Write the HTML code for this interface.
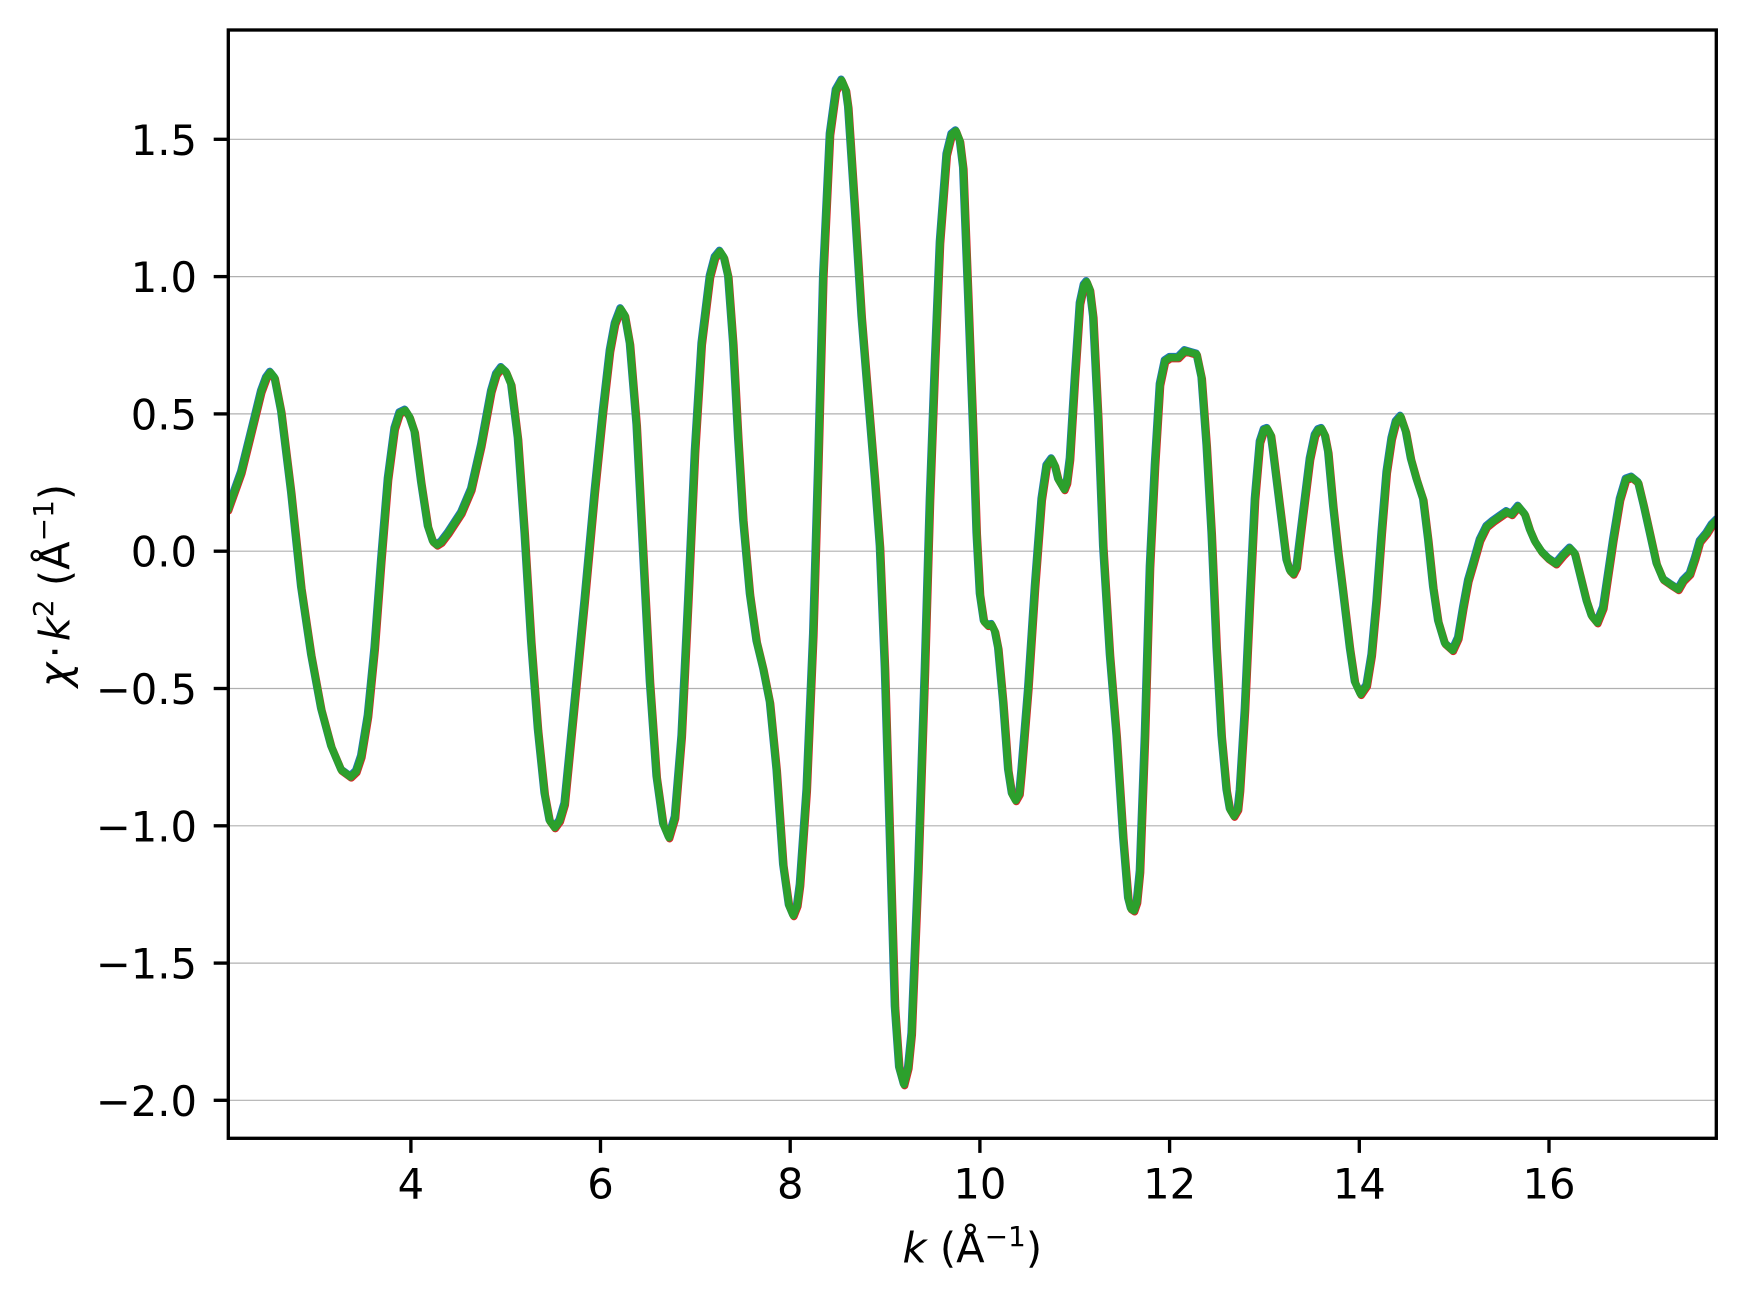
<!DOCTYPE html>
<html>
<head>
<meta charset="utf-8">
<style>
  html, body { margin: 0; padding: 0; background: #ffffff; }
  svg { display: block; }
  text { font-family: "DejaVu Sans", "Liberation Sans", sans-serif; fill: #000; }
</style>
</head>
<body>
<svg width="1745" height="1301" viewBox="0 0 1745 1301" xmlns="http://www.w3.org/2000/svg">
  <rect x="0" y="0" width="1745" height="1301" fill="#ffffff"/>
  <defs>
    <clipPath id="ax">
      <rect x="228.3" y="30" width="1488" height="1108.3"/>
    </clipPath>
    <path id="c" d="
M228,509.7 L241.3,472.5 L254.7,418.4 L261.3,391.4 L266.3,377.9 L270.3,372.4 L274.7,377.9 L281.3,411.7 L291.3,492.8 L301.3,587.5 L311.3,655.1 L321.3,709.2 L331.3,746.4 L341.3,770.1 L350.7,776.9 L356.3,771.5 L361.3,756.6 L368,716 L374.7,648.4 L381.3,560.5 L388,479.3 L394.7,428.6 L399.7,413 L405.3,410.3 L409.7,417.1 L414.7,432 L421.3,482.7 L428,526.6 L433,541.5 L437,544.9 L441.3,542.2 L448,533.4 L461.3,513.1 L471.3,489.5 L481.3,445.5 L491.3,391.4 L496.3,374.5 L501.3,367.7 L506.3,372.4 L511.3,384.6 L518,438.7 L524.7,533.4 L531.3,641.6 L538,729.5 L544.7,793.8 L549.7,820.8 L554.7,827.6 L559.7,820.8 L564.7,803.9 L574.7,702.5 L584.7,601 L594.7,492.8 L603,411.7 L610,350.8 L615,323.8 L620.7,308.9
L625,315.6 L630,344 L636.7,425.2 L643.3,553.7 L650,682.2 L656.7,776.9 L663.3,824.2 L669,837.7 L675,817.5 L681.7,736.3 L688.3,601 L695,452.3 L701.7,344 L710,276.4 L715,257.5 L720,251.4 L724,257.5 L728.3,276.4 L733.3,344 L738.3,438.7 L743.3,519.9 L750,594.3 L756.7,641.6 L763.3,668.7 L770,702.5 L776.7,770.1 L783.3,864.8 L789,905.4 L793.3,915.5 L797.3,905.4 L800,885.1 L806.7,790.4 L813.3,634.9 L818.3,465.8 L823.3,276.4 L830,134.4 L836,90.4 L841.7,80.3 L846,90.4 L848.3,107.3 L855,208.8 L861.7,317 L868.3,398.2 L875,479.3 L880,546.9 L885,668.7 L890,837.7 L895,1006.8 L899.3,1067.7 L904,1084.6 L908.3,1067.7 L911.7,1033.9 L918.3,871.6 L925,668.7 L930,499.6 L935,364.3 L940,242.6 L946.7,154.7 L951.7,134.4 L956,131 L960,141.2 L963.3,168.2 L968.3,296.7
L973.3,432 L976.7,533.4 L980,594.3 L984,621.3 L988,625.4 L991.7,624.7 L995,631.5 L998.3,648.4 L1003.3,702.5 L1008.3,770.1 L1012,793.8 L1015.7,800.5 L1019.5,793.8 L1021.7,770.1 L1028.3,689 L1035,587.5 L1041.7,499.6 L1046.7,465.8 L1051.7,459 L1055,465.8 L1058.3,479.3 L1064.3,489.5 L1067,482.7 L1070,459 L1075,377.9 L1080,303.5 L1084,285.2 L1086.7,281.8 L1090,289.9 L1093.3,317 L1098.3,418.4 L1103.3,546.9 L1110,655.1 L1116.7,736.3 L1123.3,837.7 L1128.3,898.6 L1131,908.8 L1134,910.8 L1137,902 L1140,871.6 L1145,736.3 L1150,567.2 L1155,465.8 L1160,384.6 L1165,361 L1170,357.6 L1178.3,357.6 L1185,350.8 L1191.7,352.8 L1196.7,354.2 L1201.7,377.9 L1206.7,445.5 L1211.7,533.4 L1216.7,648.4 L1221.7,736.3 L1226.7,790.4 L1230,809.3 L1234,816.1 L1238,809.3 L1240,790.4 L1245,709.2 L1250,601 L1255,499.6 L1260,442.1 L1264,429.9 L1267.3,428.6 L1271,435.3 L1273.3,452.3 L1280,506.4 L1286.7,560.5 L1290,570.6 L1293.3,574 L1296.7,567.2 L1298.3,553.7 L1303.3,513.1 L1310,459 L1315,435.3 L1318.3,429.9 L1321.7,428.6 L1325,435.3 L1328.3,452.3 L1333.3,506.4
L1338.3,552 L1343,590 L1350,648.4 L1355,682.2 L1360.7,694.4 L1366.7,685.6 L1371.7,655.1 L1376.7,601 L1381.7,533.4 L1386.7,472.5 L1391.7,438.7 L1396,421.8 L1400.7,416.4 L1406,432 L1411,459 L1416.7,479.3 L1420,489.5 L1423.3,499.6 L1428.3,540.2 L1433.3,587.5 L1438.3,621.3 L1445,643.6 L1452.7,650.4 L1458.3,638.2 L1463.3,607.8 L1468.3,580.8 L1473.3,563.8 L1480,540.2 L1486.7,526.6 L1493.3,521.2 L1500,516.5 L1506.7,511.8 L1511.7,514.5 L1518.3,506.4 L1525,514.5 L1530,530 L1535,541.5 L1541.7,551.7 L1548.3,558.4 L1556,563.8 L1563.3,555.1 L1570,548.3 L1575,553.7 L1580,574 L1586.7,601 L1591.7,615.9 L1597.3,622.7 L1603.3,607.8 L1608.3,574 L1613.3,540.2 L1620,499.6 L1626,479.3 L1631.7,477.3 L1638.3,482.7 L1644,506.4 L1650,533.4 L1656.7,563.8 L1663.3,579.4 L1670,584.1 L1678.3,589.5 L1683.3,580.8 L1690,574 L1695,559.1 L1700,541.5 L1706.7,533.4 L1711.7,525.3 L1717,519.9"/>
  </defs>

  <!-- horizontal gridlines -->
  <g stroke="#b0b0b0" stroke-width="1.2">
    <line x1="228.3" y1="139.3" x2="1716.3" y2="139.3"/>
    <line x1="228.3" y1="276.6" x2="1716.3" y2="276.6"/>
    <line x1="228.3" y1="413.9" x2="1716.3" y2="413.9"/>
    <line x1="228.3" y1="551.2" x2="1716.3" y2="551.2"/>
    <line x1="228.3" y1="688.5" x2="1716.3" y2="688.5"/>
    <line x1="228.3" y1="825.8" x2="1716.3" y2="825.8"/>
    <line x1="228.3" y1="963.1" x2="1716.3" y2="963.1"/>
    <line x1="228.3" y1="1100.3" x2="1716.3" y2="1100.3"/>
  </g>

  <!-- data curves -->
  <g clip-path="url(#ax)" fill="none" stroke-width="7.5" stroke-linejoin="round" stroke-linecap="round">
    <use href="#c" stroke="#1f77b4" transform="translate(-0.6 -1)"/>
    <use href="#c" stroke="#d62728" transform="translate(0.6 1)"/>
    <use href="#c" stroke="#2ca02c"/>
  </g>

  <!-- spines -->
  <rect x="228.3" y="30" width="1488" height="1108.3" fill="none" stroke="#000" stroke-width="3.33" stroke-linejoin="miter"/>

  <!-- y ticks -->
  <g stroke="#000" stroke-width="3.33">
    <line x1="213.7" y1="139.3" x2="228.3" y2="139.3"/>
    <line x1="213.7" y1="276.6" x2="228.3" y2="276.6"/>
    <line x1="213.7" y1="413.9" x2="228.3" y2="413.9"/>
    <line x1="213.7" y1="551.2" x2="228.3" y2="551.2"/>
    <line x1="213.7" y1="688.5" x2="228.3" y2="688.5"/>
    <line x1="213.7" y1="825.8" x2="228.3" y2="825.8"/>
    <line x1="213.7" y1="963.1" x2="228.3" y2="963.1"/>
    <line x1="213.7" y1="1100.3" x2="228.3" y2="1100.3"/>
  </g>
  <g font-size="41.67" text-anchor="end">
    <text x="197" y="154.8">1.5</text>
    <text x="197" y="292.1">1.0</text>
    <text x="197" y="429.4">0.5</text>
    <text x="197" y="566.7">0.0</text>
    <text x="197" y="704">−0.5</text>
    <text x="197" y="841.3">−1.0</text>
    <text x="197" y="978.6">−1.5</text>
    <text x="197" y="1115.8">−2.0</text>
  </g>

  <!-- x ticks -->
  <g stroke="#000" stroke-width="3.33">
    <line x1="410.9" y1="1138.3" x2="410.9" y2="1152.9"/>
    <line x1="600.5" y1="1138.3" x2="600.5" y2="1152.9"/>
    <line x1="790.2" y1="1138.3" x2="790.2" y2="1152.9"/>
    <line x1="979.9" y1="1138.3" x2="979.9" y2="1152.9"/>
    <line x1="1169.6" y1="1138.3" x2="1169.6" y2="1152.9"/>
    <line x1="1359.3" y1="1138.3" x2="1359.3" y2="1152.9"/>
    <line x1="1549.0" y1="1138.3" x2="1549.0" y2="1152.9"/>
  </g>
  <g font-size="41.67" text-anchor="middle">
    <text x="410.9" y="1198.5">4</text>
    <text x="600.5" y="1198.5">6</text>
    <text x="790.2" y="1198.5">8</text>
    <text x="979.9" y="1198.5">10</text>
    <text x="1169.6" y="1198.5">12</text>
    <text x="1359.3" y="1198.5">14</text>
    <text x="1549.0" y="1198.5">16</text>
  </g>

  <!-- x label -->
  <text x="972.3" y="1262.7" font-size="41.67" text-anchor="middle"><tspan font-style="italic">k</tspan> (Å<tspan dy="-16.7" font-size="28">−1</tspan><tspan dy="16.7">)</tspan></text>

  <!-- y label -->
  <text transform="translate(69.6 585.5) rotate(-90)" x="0" y="0" font-size="41.67" text-anchor="middle"><tspan font-style="italic">χ</tspan><tspan dx="4">·</tspan><tspan dx="4" font-style="italic">k</tspan><tspan dy="-16.7" font-size="28">2</tspan><tspan dy="16.7"> (Å</tspan><tspan dy="-16.7" font-size="28">−1</tspan><tspan dy="16.7">)</tspan></text>
</svg>
</body>
</html>
